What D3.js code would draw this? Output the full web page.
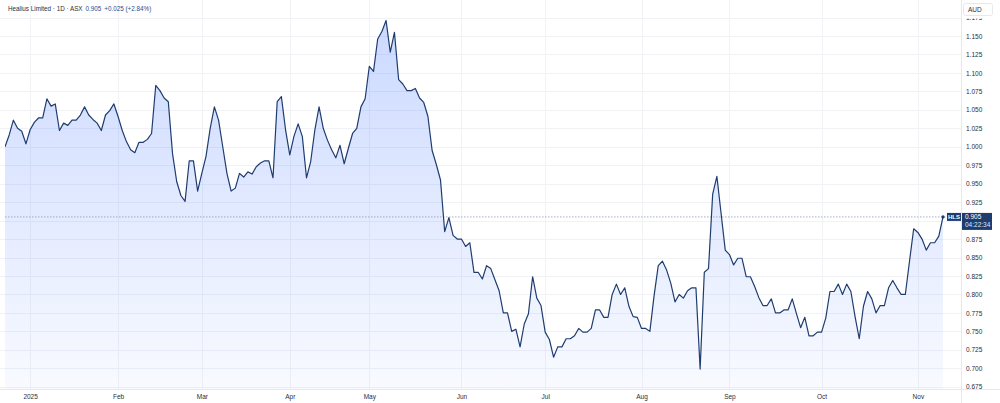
<!DOCTYPE html>
<html>
<head>
<meta charset="utf-8">
<script src="https://cdn.jsdelivr.net/npm/d3@7"></script>
<style>
  body { margin: 0; background: #fff; }
  svg { display: block; font-family: "Liberation Sans", Arial, sans-serif; }
</style>
</head>
<body>
<div id="chart"></div>
<script>
var w = 1000,
	h = 403;

//Daily closes, one array per month (trading days)
var dec24 = [1.000, 1.016, 1.036, 1.025, 1.021, 1.004];
var jan = [1.023, 1.033, 1.039, 1.039, 1.065, 1.055, 1.058, 1.022, 1.032, 1.029, 1.036, 1.036, 1.043, 1.054, 1.043, 1.037, 1.032, 1.022, 1.043, 1.049, 1.058];
var feb = [1.041, 1.022, 1.007, 0.996, 0.992, 1.006, 1.006, 1.010, 1.018, 1.083, 1.076, 1.066, 1.061, 0.991, 0.953, 0.934, 0.926, 0.981, 0.981, 0.940];
var mar = [0.964, 0.987, 1.025, 1.054, 1.036, 1.000, 0.964, 0.940, 0.944, 0.964, 0.959, 0.966, 0.963, 0.973, 0.978, 0.981, 0.981, 0.958, 1.061, 1.068, 1.023];
var apr = [0.989, 1.014, 1.031, 1.014, 0.958, 0.980, 1.023, 1.054, 1.025, 1.009, 0.996, 0.985, 1.002, 0.977, 0.998, 1.018, 1.025, 1.054, 1.065];
var may = [1.109, 1.102, 1.146, 1.156, 1.171, 1.128, 1.155, 1.091, 1.085, 1.076, 1.076, 1.079, 1.066, 1.060, 1.041, 0.995, 0.976, 0.955, 0.885, 0.904, 0.880, 0.875];
var jun = [0.875, 0.865, 0.870, 0.830, 0.830, 0.821, 0.839, 0.835, 0.820, 0.805, 0.775, 0.775, 0.750, 0.753, 0.729, 0.760, 0.774, 0.824, 0.795, 0.785];
var jul = [0.749, 0.739, 0.715, 0.729, 0.729, 0.740, 0.740, 0.744, 0.754, 0.749, 0.749, 0.754, 0.779, 0.779, 0.769, 0.769, 0.800, 0.814, 0.800, 0.809, 0.784, 0.770, 0.769];
var aug = [0.754, 0.754, 0.750, 0.798, 0.839, 0.845, 0.833, 0.815, 0.790, 0.800, 0.795, 0.805, 0.809, 0.809, 0.699, 0.830, 0.835, 0.936, 0.960, 0.910, 0.860];
var sep = [0.854, 0.840, 0.849, 0.849, 0.824, 0.824, 0.811, 0.796, 0.785, 0.785, 0.794, 0.775, 0.775, 0.779, 0.779, 0.794, 0.774, 0.755, 0.769, 0.744, 0.744, 0.749];
var oct = [0.749, 0.768, 0.804, 0.804, 0.814, 0.800, 0.814, 0.804, 0.770, 0.740, 0.784, 0.804, 0.794, 0.775, 0.785, 0.785, 0.809, 0.819, 0.809, 0.800, 0.800, 0.845, 0.889];
var nov = [0.884, 0.875, 0.860, 0.870, 0.870, 0.879, 0.905];

//Month tick labels (first trading day of each month)
var monthLabels = ['2025', 'Feb', 'Mar', 'Apr', 'May', 'Jun', 'Jul', 'Aug', 'Sep', 'Oct', 'Nov'];
var monthArrays = [jan, feb, mar, apr, may, jun, jul, aug, sep, oct, nov];

//Price axis ticks
var priceTicks = [0.675, 0.700, 0.725, 0.750, 0.775, 0.800, 0.825, 0.850, 0.875, 0.900, 0.925, 0.950, 0.975, 1.000, 1.025, 1.050, 1.075, 1.100, 1.125, 1.150, 1.175];

var lastPrice = 0.905;
var header = { name: 'Healius Limited \u00b7 1D \u00b7 ASX', price: '0.905', change: '+0.025 (+2.84%)', ticker: 'HLS', time: '04:22:34' };

//Build series + month start indices
var values = dec24.slice();
var monthStarts = [];
monthArrays.forEach(function(m) {
	monthStarts.push(values.length);
	values = values.concat(m);
});
var data = values.map(function(v, i) { return { i: i, v: v }; });

var plotLeft = 5, plotRight = 961, plotTop = 0, plotBottom = 389;

var x = d3.scaleLinear().domain([0, values.length - 1]).range([5, 943]);
var y = d3.scaleLinear().domain([0.700, 1.150]).range([368.3, 36]);
var py = y(lastPrice);

var svg = d3.select('#chart')
	.append('svg')
	.attr('width', w)
	.attr('height', h);

var defs = svg.append('defs');
defs.append('clipPath').attr('id', 'plotClip')
	.append('rect')
	.attr('x', plotLeft).attr('y', plotTop)
	.attr('width', plotRight - plotLeft).attr('height', plotBottom - plotTop);
defs.append('clipPath').attr('id', 'axisClip')
	.append('rect')
	.attr('x', plotRight).attr('y', 18.5)
	.attr('width', w - plotRight).attr('height', plotBottom - 18.5);

var grad = defs.append('linearGradient')
	.attr('id', 'areaFill')
	.attr('gradientUnits', 'userSpaceOnUse')
	.attr('x1', 0).attr('y1', 20).attr('x2', 0).attr('y2', plotBottom);
grad.append('stop').attr('offset', '0%').attr('stop-color', '#2962ff').attr('stop-opacity', 0.24);
grad.append('stop').attr('offset', '100%').attr('stop-color', '#2962ff').attr('stop-opacity', 0.03);

//Gridlines
svg.append('g')
	.attr('class', 'grid')
	.selectAll('line.h')
	.data(priceTicks)
	.enter()
	.append('line')
	.attr('x1', 0).attr('x2', plotRight)
	.attr('y1', function(d) { return Math.round(y(d)) + 0.5; })
	.attr('y2', function(d) { return Math.round(y(d)) + 0.5; })
	.attr('stroke', '#f0f2f6')
	.attr('stroke-width', 1);

svg.append('g')
	.selectAll('line')
	.data(monthStarts)
	.enter()
	.append('line')
	.attr('x1', function(d) { return Math.round(x(d)) + 0.5; })
	.attr('x2', function(d) { return Math.round(x(d)) + 0.5; })
	.attr('y1', 0).attr('y2', plotBottom)
	.attr('stroke', '#f0f2f6')
	.attr('stroke-width', 1);

//Area + line
var plot = svg.append('g').attr('clip-path', 'url(#plotClip)');

plot.append('path')
	.datum(data)
	.attr('fill', 'url(#areaFill)')
	.attr('d', d3.area()
		.x(function(d) { return x(d.i); })
		.y0(plotBottom)
		.y1(function(d) { return y(d.v); }));

//Last price dotted line
plot.append('line')
	.attr('x1', plotLeft).attr('x2', plotRight)
	.attr('y1', py).attr('y2', py)
	.attr('stroke', '#8e9cbc')
	.attr('stroke-width', 0.8)
	.attr('stroke-dasharray', '1.5,1.5');

plot.append('path')
	.datum(data)
	.attr('fill', 'none')
	.attr('stroke', '#1f3c6f')
	.attr('stroke-width', 1.2)
	.attr('stroke-linejoin', 'round')
	.attr('d', d3.line()
		.x(function(d) { return x(d.i); })
		.y(function(d) { return y(d.v); }));

plot.append('circle')
	.attr('cx', x(values.length - 1))
	.attr('cy', y(values[values.length - 1]))
	.attr('r', 1.6)
	.attr('fill', '#1f3c6f');

//Right axis separator & bottom axis line
svg.append('line')
	.attr('x1', plotRight + 0.5).attr('x2', plotRight + 0.5)
	.attr('y1', 0).attr('y2', h)
	.attr('stroke', '#e6e8ee');
svg.append('line')
	.attr('x1', 0).attr('x2', w)
	.attr('y1', plotBottom + 0.5).attr('y2', plotBottom + 0.5)
	.attr('stroke', '#e6e8ee');

//Price axis (labels under the price box are hidden, like the original)
var visibleTicks = priceTicks.filter(function(d) { return Math.abs(y(d) - (py + 4.5)) > 11; });
var yAxis = svg.append('g')
	.attr('clip-path', 'url(#axisClip)')
	.append('g')
	.attr('transform', 'translate(' + (plotRight + 1) + ',0)')
	.call(d3.axisRight(y).tickValues(visibleTicks).tickSize(0).tickPadding(4).tickFormat(d3.format('.3f')));
yAxis.select('.domain').remove();
yAxis.selectAll('text')
	.attr('font-size', '6.5px')
	.attr('font-family', '"Liberation Sans", Arial, sans-serif')
	.attr('fill', '#2a2e39');

//Time axis
var xAxis = svg.append('g')
	.attr('transform', 'translate(0,' + plotBottom + ')')
	.call(d3.axisBottom(x).tickValues(monthStarts).tickSize(0).tickPadding(5)
		.tickFormat(function(d, i) { return monthLabels[i]; }));
xAxis.select('.domain').remove();
xAxis.selectAll('text')
	.attr('font-size', '6.5px')
	.attr('font-family', '"Liberation Sans", Arial, sans-serif')
	.attr('fill', '#2a2e39');

//AUD box
svg.append('rect')
	.attr('x', 963.5).attr('y', 3.5)
	.attr('width', 29).attr('height', 12)
	.attr('rx', 2)
	.attr('fill', '#fff')
	.attr('stroke', '#e6e8ee');
svg.append('text')
	.attr('x', 968).attr('y', 12)
	.attr('font-size', '6.5px')
	.attr('fill', '#2a2e39')
	.text('AUD');

//Ticker + price labels
svg.append('rect')
	.attr('x', 947).attr('y', py - 4)
	.attr('width', 14).attr('height', 8)
	.attr('fill', '#1f3c6f');
svg.append('text')
	.attr('x', 954).attr('y', py + 2.3)
	.attr('text-anchor', 'middle')
	.attr('font-size', '6px')
	.attr('font-weight', 'bold')
	.attr('fill', '#fff')
	.text(header.ticker);
svg.append('rect')
	.attr('x', 962).attr('y', py - 4)
	.attr('width', 30).attr('height', 17)
	.attr('fill', '#1f3c6f');
svg.append('text')
	.attr('x', 965).attr('y', py + 2.3)
	.attr('font-size', '6.5px')
	.attr('fill', '#fff')
	.text(header.price);
svg.append('text')
	.attr('x', 965).attr('y', py + 10.5)
	.attr('font-size', '6.5px')
	.attr('fill', '#dfe6f3')
	.text(header.time);

//Header
var title = svg.append('text')
	.attr('x', 8).attr('y', 11)
	.attr('font-size', '6.3px')
	.attr('fill', '#2a2e39');
title.append('tspan').text(header.name);
title.append('tspan').attr('dx', 3).attr('fill', '#2b4c8c').text(header.price);
title.append('tspan').attr('dx', 3).attr('fill', '#2b4c8c').text(header.change);
</script>
</body>
</html>
